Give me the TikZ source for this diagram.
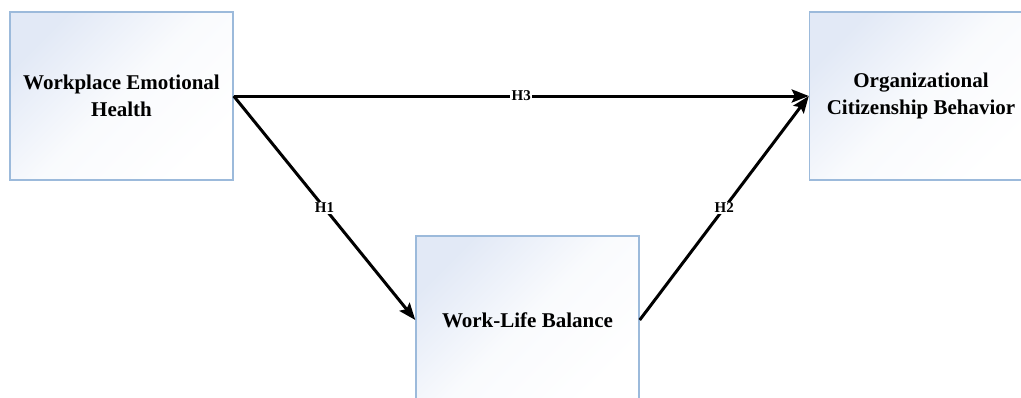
\documentclass[tikz,border=0pt]{standalone}
\usepackage{fontspec}
\setmainfont{Liberation Serif}
\usepackage{tikz}
\usetikzlibrary{arrows.meta}
\definecolor{boxline}{HTML}{9CBADB}
\definecolor{boxfill}{HTML}{E2E9F6}

\begin{document}
\begin{tikzpicture}[x=1pt,y=-1pt,>=Stealth,
    varbox/.style={draw=boxline,line width=1.4pt,top color=boxfill,bottom color=white,
      middle color=white!80!boxfill,shading angle=45,
      minimum width=223pt,minimum height=168pt,inner sep=0pt,
      align=center,font=\fontsize{21}{27}\selectfont\bfseries},
    hyp/.style={line width=3pt,black,
      -{Stealth[length=17pt,width=13pt,inset=3pt]}},
    hlabel/.style={fill=white,inner sep=1.5pt,font=\fontsize{15}{17}\selectfont\bfseries}]
      % page size of the reference
      \useasboundingbox (0,0) rectangle (1021,397);
      \clip (0,0) rectangle (1021,397);

      % the three constructs
      \node[varbox] (wemh) at (121.5,96) {Workplace Emotional\\Health};
      \node[varbox] (ocb)  at (921,96)   {Organizational\\Citizenship Behavior};
      \node[varbox] (wlb)  at (527.5,320) {Work-Life Balance};

      % hypotheses
      \draw[hyp] (wemh.east) -- (ocb.west) node[hlabel,midway] {H3};
      \draw[hyp] (wemh.east) -- (wlb.west) node[hlabel,midway] {H1};
      \draw[hyp] (wlb.east) -- (ocb.west) node[hlabel,midway] {H2};
    \end{tikzpicture}
\end{document}
